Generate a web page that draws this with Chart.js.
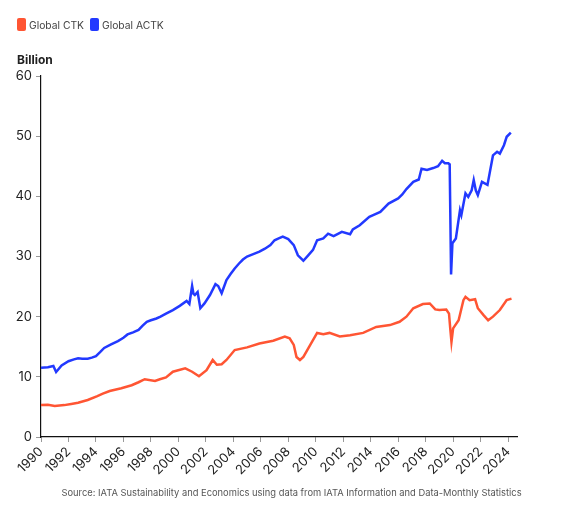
<!DOCTYPE html>
<html>
<head>
<meta charset="utf-8">
<script src="https://cdn.jsdelivr.net/npm/chart.js@4/dist/chart.umd.min.js"></script>
<style>
  body { margin: 0; background: #fff; font-family: Inter, "Noto Sans", sans-serif; }
  #wrap { position: relative; width: 567px; height: 513px; }
  #chart { position: absolute; left: 0; top: 0; }
  .legend { position: absolute; left: 17px; top: 18px; font-size: 10.3px; color: #444; display: flex; }
  .legend span { display: flex; align-items: center; margin-right: 6px; }
  .legend i { display: inline-block; width: 9px; height: 13px; border-radius: 2px; margin-right: 3px; }
  .unit { position: absolute; left: 17px; top: 52px; font-size: 12px; font-weight: 700; color: #222; }
  .source { position: absolute; left: 0; width: 583px; top: 487px; text-align: center; font-size: 9.35px; color: #555; }
</style>
</head>
<body>
<div id="wrap">
  <canvas id="chart" width="567" height="513"></canvas>
  <div class="legend">
    <span><i style="background:#ff5533"></i>Global CTK</span>
    <span><i style="background:#2239ff"></i>Global ACTK</span>
  </div>
  <div class="unit">Billion</div>
  <div class="source">Source: IATA Sustainability and Economics using data from IATA Information and Data-Monthly Statistics</div>
</div>
<script>
// values, in billions
const actkYears = [1990.0, 1990.5, 1990.9, 1991.1, 1991.5, 1992.0, 1992.4, 1992.7, 1993.0, 1993.4, 1993.7, 1994.0,
  1994.3, 1994.6, 1995.1, 1995.6, 1996.0, 1996.3, 1996.7, 1997.1, 1997.4, 1997.7, 1998.0, 1998.4, 1998.7, 1999.1,
  1999.6, 2000.1, 2000.6, 2000.8, 2001.0, 2001.1, 2001.2, 2001.4, 2001.6, 2001.9, 2002.3, 2002.7, 2002.9, 2003.15,
  2003.5, 2003.8, 2004.1, 2004.4, 2004.7, 2005.0, 2005.45, 2005.9, 2006.3, 2006.7, 2007.0, 2007.3, 2007.6, 2008.0,
  2008.4, 2008.7, 2009.1, 2009.45, 2009.8, 2010.1, 2010.55, 2010.9, 2011.3, 2011.9, 2012.5, 2012.7, 2013.2, 2013.9,
  2014.3, 2014.7, 2015.3, 2016.0, 2016.3, 2016.6, 2017.1, 2017.5, 2017.7, 2018.1, 2018.55, 2018.9, 2019.2, 2019.4,
  2019.65, 2019.75, 2019.85, 2019.95, 2020.2, 2020.5, 2020.6, 2020.9, 2021.1, 2021.35, 2021.5, 2021.65, 2021.8,
  2022.1, 2022.5, 2022.9, 2023.2, 2023.4, 2023.7, 2023.9, 2024.2];
const actkValues = [11.5, 11.6, 11.8, 10.8, 11.9, 12.6, 12.9, 13.1, 13.0, 13.0, 13.2, 13.45,
  14.1, 14.8, 15.4, 15.95, 16.5, 17.05, 17.4, 17.8, 18.5, 19.15, 19.4, 19.7, 20.0, 20.5,
  21.1, 21.8, 22.6, 22.1, 25.1, 23.8, 23.6, 24.1, 21.4, 22.2, 23.6, 25.4, 25.1, 23.9,
  26.1, 27.1, 28.0, 28.8, 29.5, 30.0, 30.4, 30.8, 31.3, 31.9, 32.7, 33.0, 33.3, 32.9,
  31.9, 30.2, 29.3, 30.2, 31.1, 32.7, 33.0, 33.8, 33.4, 34.1, 33.7, 34.5, 35.2, 36.6,
  37.0, 37.4, 38.8, 39.65, 40.3, 41.2, 42.4, 42.8, 44.6, 44.4, 44.7, 45.0, 45.9, 45.5,
  45.5, 45.3, 27.0, 32.2, 33.0, 37.7, 36.9, 40.5, 39.9, 41.0, 42.7, 41.0, 40.2,
  42.4, 41.9, 46.8, 47.4, 47.1, 48.5, 49.9, 50.6];

const ctkYears = [1990.0, 1990.5, 1991.0, 1991.7, 1992.2, 1992.7, 1993.4, 1994.1, 1994.5, 1995.0, 1995.85, 1996.6,
  1997.1, 1997.55, 1998.3, 1998.65, 1999.1, 1999.6, 2000.5, 2001.0, 2001.5, 2002.05, 2002.5, 2002.8, 2003.15,
  2003.5, 2004.1, 2005.0, 2005.9, 2006.9, 2007.75, 2008.1, 2008.4, 2008.6, 2008.85, 2009.1, 2009.6, 2010.1,
  2010.55, 2011.0, 2011.75, 2012.5, 2013.45, 2014.4, 2015.4, 2016.1, 2016.6, 2017.1, 2017.8, 2018.3, 2018.7,
  2019.0, 2019.5, 2019.7, 2019.8, 2019.88, 2020.0, 2020.4, 2020.75, 2020.9, 2021.2, 2021.6, 2021.8, 2022.2,
  2022.55, 2022.9, 2023.4, 2023.9, 2024.25];
const ctkValues = [5.3, 5.35, 5.15, 5.3, 5.5, 5.7, 6.15, 6.8, 7.2, 7.65, 8.1, 8.6,
  9.1, 9.6, 9.3, 9.6, 9.9, 10.85, 11.4, 10.85, 10.1, 11.1, 12.8, 12.0, 12.1,
  12.8, 14.45, 14.9, 15.55, 16.0, 16.7, 16.4, 15.3, 13.3, 12.8, 13.3, 15.3, 17.3,
  17.1, 17.3, 16.7, 16.9, 17.3, 18.3, 18.6, 19.15, 20.0, 21.4, 22.1, 22.2, 21.2,
  21.1, 21.2, 20.5, 17.8, 15.8, 18.05, 19.4, 22.75, 23.3, 22.75, 22.9, 21.4, 20.3,
  19.4, 20.0, 21.1, 22.75, 23.0];

const yearTicks = [1990, 1992, 1994, 1996, 1998, 2000, 2002, 2004, 2006, 2008, 2010, 2012, 2014, 2016, 2018, 2020, 2022, 2024];

function toPoints(xs, ys) {
  return xs.map((x, i) => ({ x: x, y: ys[i] }));
}

const tickFont = { family: 'Inter, "Noto Sans", sans-serif', size: 13 };

new Chart(document.getElementById('chart'), {
  type: 'line',
  data: {
    datasets: [{
      label: 'Global CTK',
      data: toPoints(ctkYears, ctkValues),
      borderColor: '#ff5533',
      borderWidth: 2.5,
      pointRadius: 0,
      tension: 0
    }, {
      label: 'Global ACTK',
      data: toPoints(actkYears, actkValues),
      borderColor: '#2239ff',
      borderWidth: 2.5,
      pointRadius: 0,
      tension: 0
    }]
  },
  options: {
    responsive: false,
    animation: false,
    layout: { padding: { top: 76, right: 50, bottom: 0, left: 0 } },
    plugins: {
      legend: { display: false },
      tooltip: { enabled: false }
    },
    scales: {
      x: {
        type: 'linear',
        min: 1990,
        max: 2024.65,
        afterFit: axis => { axis.height = 76; },
        afterBuildTicks: axis => { axis.ticks = yearTicks.map(v => ({ value: v })); },
        border: { color: '#111', width: 1.2 },
        grid: { drawOnChartArea: false, color: '#999', tickLength: 5 },
        ticks: {
          callback: v => String(v),
          maxRotation: 45,
          minRotation: 45,
          color: '#222',
          font: tickFont,
          padding: 2
        }
      },
      y: {
        min: 0,
        max: 60,
        afterFit: axis => { axis.width = 41; },
        border: { color: '#111', width: 1.2 },
        grid: { drawOnChartArea: false, color: '#999', tickLength: 5 },
        ticks: { stepSize: 10, color: '#222', font: tickFont, padding: 4 }
      }
    }
  }
});
</script>
</body>
</html>
